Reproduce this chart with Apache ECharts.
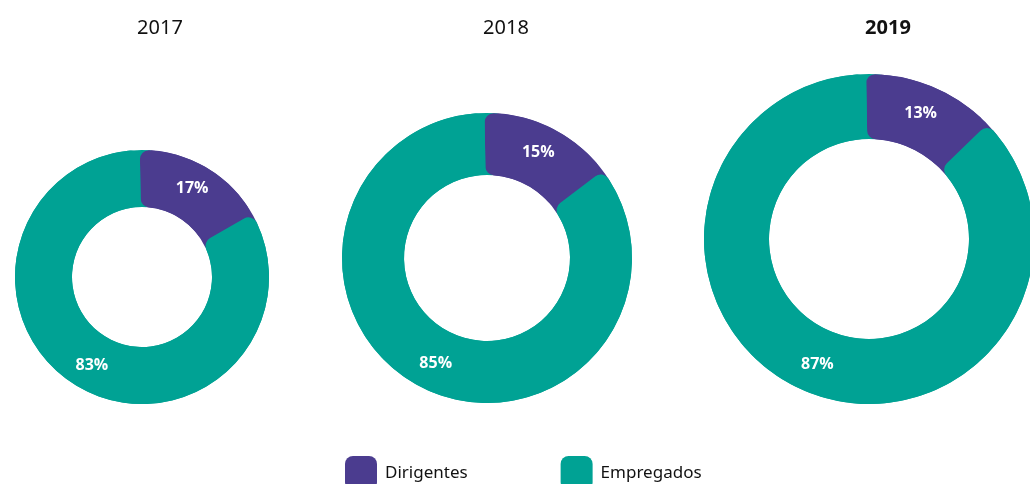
<!DOCTYPE html>
<html>
<head>
<meta charset="utf-8">
<script src="https://cdn.jsdelivr.net/npm/echarts@6/dist/echarts.min.js"></script>
<style>
  html, body { margin: 0; padding: 0; background: #fff; }
  #chart { width: 1030px; height: 484px; }
</style>
</head>
<body>
<div id="chart"></div>
<script>
// 数据
const years = ['2017', '2018', '2019']
const categories = ['Dirigentes', 'Empregados']
const dirigentes = [17, 15, 13]
const empregados = [83, 85, 87]

const colors = ['#4B3C8F', '#00A294']
// 每个环的位置和大小
const centers = [[142, 277], [487, 258], [869, 239]]
const radii = [[70, 127], [83, 145], [100, 165]]
const titleX = [160, 506, 888]

const chart = echarts.init(document.getElementById('chart'))

const series = []
years.forEach((y, i) => {
  const data = categories.map((c, k) => ({
    name: c,
    value: k === 0 ? dirigentes[i] : empregados[i]
  }))
  // 底层环，稍微旋转，用来填补圆角缝隙
  series.push({
    type: 'pie',
    silent: true,
    center: centers[i],
    radius: radii[i],
    startAngle: 86,
    clockwise: true,
    label: { show: false },
    labelLine: { show: false },
    emphasis: { disabled: true },
    data: data
  })
  series.push({
    name: y,
    type: 'pie',
    center: centers[i],
    radius: radii[i],
    startAngle: 91,
    clockwise: true,
    itemStyle: { borderRadius: 9 },
    label: {
      show: true,
      position: 'inside',
      formatter: '{c}%',
      color: '#fff',
      fontSize: 16,
      fontWeight: 'bold',
      fontFamily: 'Open Sans'
    },
    labelLine: { show: false },
    data: data
  })
})

const option = {
  color: colors,
  animation: false,
  title: years.map((y, i) => ({
    text: y,
    left: titleX[i] - 5,
    top: 13,
    textAlign: 'center',
    textStyle: {
      fontSize: 20,
      fontWeight: i === 2 ? 'bold' : 'normal',
      color: '#111',
      fontFamily: 'Noto Sans'
    }
  })),
  legend: {
    data: categories,
    left: 345,
    top: 456,
    padding: 0,
    itemWidth: 32,
    itemHeight: 34,
    itemGap: 93,
    icon: 'roundRect',
    textStyle: { fontSize: 17, color: '#111', fontFamily: 'Noto Sans', padding: [6, 0, 0, 3] }
  },
  series: series
}

chart.setOption(option)
</script>
</body>
</html>
